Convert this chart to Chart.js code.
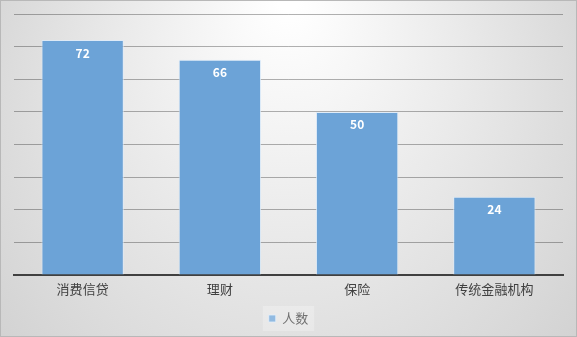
<!DOCTYPE html>
<html>
<head>
<meta charset="utf-8">
<script src="https://cdn.jsdelivr.net/npm/chart.js@4"></script>
<style>
  html, body { margin: 0; padding: 0; background: #fff; }
  #wrap { width: 577px; height: 337px; }
</style>
</head>
<body>
<div id="wrap"><canvas id="chart" width="577" height="337"></canvas></div>
<script>
const categories = ["消费信贷", "理财", "保险", "传统金融机构"];
const people = [72, 66, 50, 24];
const seriesName = "人数";

const fontFamily = "'Noto Sans CJK SC', 'Noto Sans', sans-serif";

// gradient background + outer frame
const backdrop = {
  id: "backdrop",
  beforeDraw(chart) {
    const { ctx, width, height } = chart;
    ctx.save();
    const g = ctx.createRadialGradient(width / 2, 0, 10, width / 2, height * 0.4, width * 0.62);
    g.addColorStop(0, "#ffffff");
    g.addColorStop(1, "#d2d2d2");
    ctx.fillStyle = g;
    ctx.fillRect(0, 0, width, height);
    ctx.restore();
  },
  afterDraw(chart) {
    const { ctx, width, height } = chart;
    ctx.save();
    // legend background box
    const boxes = chart.legend.legendHitBoxes;
    if (boxes && boxes.length) {
      const b = boxes[0];
      ctx.fillStyle = "rgba(255,255,255,0.25)";
      ctx.fillRect(b.left - 6, b.top - 6, b.width + 12, b.height + 12);
    }
    ctx.strokeStyle = "#b8b8b8";
    ctx.lineWidth = 1;
    ctx.strokeRect(0.5, 0.5, width - 1, height - 1);
    ctx.restore();
  }
};

// white value labels inside the top of each bar
const valueLabels = {
  id: "valueLabels",
  afterDatasetsDraw(chart) {
    const { ctx } = chart;
    const meta = chart.getDatasetMeta(0);
    ctx.save();
    ctx.fillStyle = "#ffffff";
    ctx.font = "bold 12px " + fontFamily;
    ctx.textAlign = "center";
    ctx.textBaseline = "middle";
    meta.data.forEach((bar, i) => {
      ctx.fillText(people[i], bar.x, bar.y + 13);
    });
    ctx.restore();
  }
};

const data = {
  labels: categories,
  datasets: [
    {
      label: seriesName,
      data: people,
      backgroundColor: "rgb(108, 163, 215)",
      borderColor: "rgba(220, 235, 250, 0.8)",
      borderWidth: 1,
      categoryPercentage: 0.6,
      barPercentage: 1.0,
    },
  ],
};

const config = {
  type: "bar",
  data: data,
  plugins: [backdrop, valueLabels],
  options: {
    responsive: false,
    animation: false,
    layout: { padding: { left: 14, right: 14, top: 14, bottom: 2 } },
    plugins: {
      tooltip: { enabled: false },
      legend: {
        position: "bottom",
        labels: {
          boxWidth: 7,
          boxHeight: 7,
          color: "#404040",
          padding: 6,
          font: { family: fontFamily, size: 13 },
        },
      },
    },
    scales: {
      x: {
        grid: { display: false },
        border: { color: "#404040", width: 2 },
        ticks: { color: "#404040", font: { family: fontFamily, size: 13 }, padding: -2 },
        afterFit(scale) { scale.height = 31; },
      },
      y: {
        min: 0,
        max: 80,
        ticks: { display: false, stepSize: 10 },
        border: { display: false },
        grid: { color: "rgba(0,0,0,0.3)", drawTicks: false },
        afterFit(scale) { scale.width = 0; },
      },
    },
  },
};

const ctx = document.getElementById("chart").getContext("2d");
const chart = new Chart(ctx, config);
</script>
</body>
</html>
